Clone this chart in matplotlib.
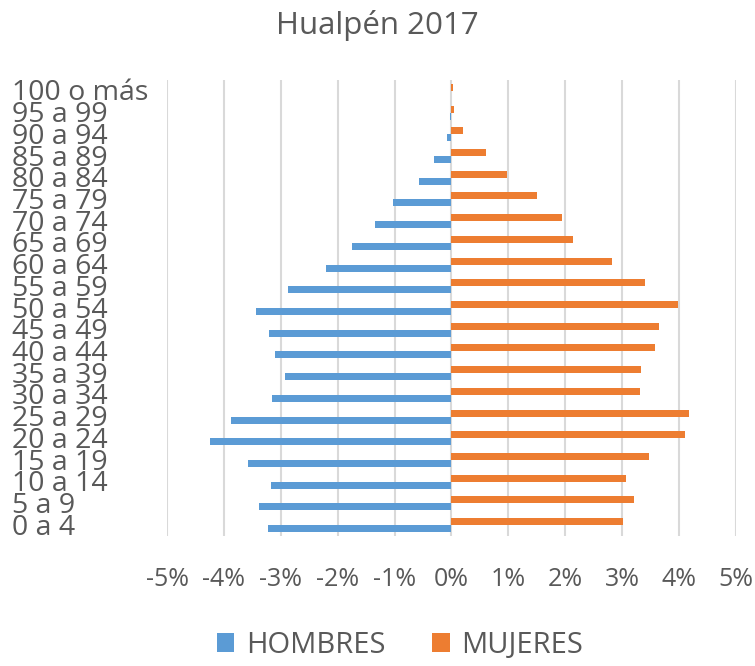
import numpy as np
import matplotlib
matplotlib.use('Agg')
import matplotlib.pyplot as plt
from matplotlib.ticker import FuncFormatter
from matplotlib.transforms import blended_transform_factory

# age groups, bottom to top
grupos = ['0 a 4', '5 a 9', '10 a 14', '15 a 19', '20 a 24', '25 a 29',
          '30 a 34', '35 a 39', '40 a 44', '45 a 49', '50 a 54', '55 a 59',
          '60 a 64', '65 a 69', '70 a 74', '75 a 79', '80 a 84', '85 a 89',
          '90 a 94', '95 a 99', '100 o más']

# share of total population (%)
hombres = [3.23, 3.39, 3.17, 3.58, 4.24, 3.87, 3.15, 2.93, 3.10, 3.21, 3.43,
           2.88, 2.20, 1.74, 1.34, 1.03, 0.57, 0.31, 0.075, 0.02, 0.005]
mujeres = [3.02, 3.20, 3.06, 3.47, 4.10, 4.17, 3.31, 3.33, 3.57, 3.65, 3.98,
           3.40, 2.82, 2.13, 1.94, 1.51, 0.97, 0.615, 0.20, 0.05, 0.02]

ticks = [-0.05, -0.04, -0.03, -0.02, -0.01, 0, 0.01, 0.02, 0.03, 0.04, 0.05]

azul = '#5b9bd5'
naranja = '#ed7d31'
gris = '#595959'
font = ['Open Sans', 'DejaVu Sans']
plt.rcParams['font.family'] = font

fig = plt.figure(figsize=(7.55, 6.66), dpi=100)
ax = fig.add_axes([0.2212, 0.1952, 0.7536, 0.6847])

y = np.arange(len(grupos))
h = 0.32
ax.barh(y - h / 2, -np.array(hombres) / 100, height=h, color=azul, label='HOMBRES', zorder=3)
ax.barh(y + h / 2, np.array(mujeres) / 100, height=h, color=naranja, label='MUJERES', zorder=3)

ax.set_xlim(-0.05, 0.05)
ax.set_ylim(-0.5, len(grupos) - 0.5)
ax.set_xticks(ticks)
ax.xaxis.set_major_formatter(FuncFormatter(lambda v, p: '{:.0f}%'.format(v * 100)))
ax.tick_params(axis='x', length=0, pad=22, labelsize=18, labelcolor=gris)
ax.set_yticks([])
ax.grid(axis='x', color='#d9d9d9', linewidth=1.5, zorder=0)
for s in ax.spines.values():
    s.set_visible(False)

# category labels sit at the far left edge of the figure
tr = blended_transform_factory(fig.transFigure, ax.transData)
for i, g in enumerate(grupos):
    ax.text(12 / 755, i - 0.12, g, transform=tr, ha='left', va='center',
            fontsize=20.5, color=gris, clip_on=False)

fig.suptitle('Hualpén 2017', y=0.985, fontsize=22.5, color=gris)
fig.legend(loc='lower center', bbox_to_anchor=(0.53, -0.03), ncol=2, frameon=False,
           fontsize=21, labelcolor=gris, handlelength=0.6, handleheight=0.6,
           handletextpad=0.4, columnspacing=1.6)

fig.savefig('out.png', dpi=100)
